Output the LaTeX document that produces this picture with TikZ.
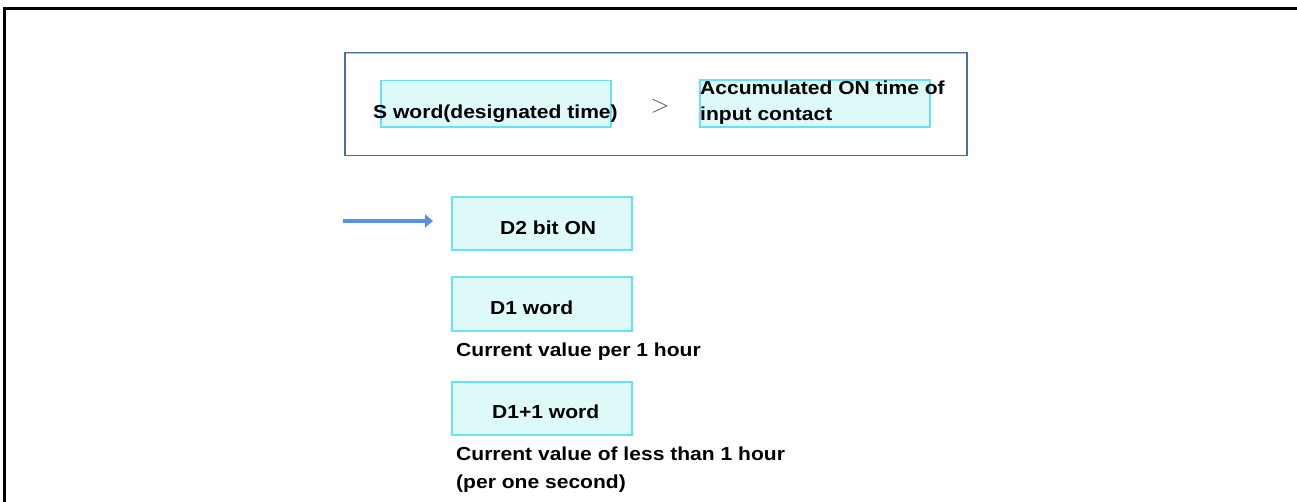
\documentclass[tikz,border=0pt]{standalone}
\usepackage{fontspec}
\setmainfont{Liberation Sans}[FakeStretch=1.12]
\usetikzlibrary{arrows.meta}
\definecolor{boxfill}{HTML}{DEFAF8}
\definecolor{boxline}{HTML}{66E2F0}
\definecolor{outerline}{HTML}{4A6FA5}
\definecolor{outerlight}{HTML}{A9C1E0}
\definecolor{arrowblue}{HTML}{5A8EF0}
\begin{document}
\begin{tikzpicture}[x=1pt,y=-1pt,
  cbox/.style={draw=boxline,fill=boxfill,line width=1.5pt,anchor=north west,inner sep=0pt,outer sep=0pt},
  lbl/.style={anchor=base west,inner sep=0pt,font=\bfseries\fontsize{18.8}{26}\selectfont},
  frameline/.style={line width=3.8pt,black}]
\useasboundingbox (0,0) rectangle (1297,502);
% outer frame
\coordinate (fTL) at (3,8.5);
\coordinate (fTR) at (1297,8.5);
\coordinate (fBL) at (4.5,502);
\draw[frameline] (fTL) -- (fTR);
\draw[line width=3.2pt] (4.5,7) -- (fBL);
% top group box
\node[draw=outerline,line width=1.5pt,anchor=north west,inner sep=0pt,minimum width=622pt,minimum height=103pt] (outer) at (344,52) {};
\draw[outerlight,line width=1pt] ([shift={(1.5,2)}]outer.north west) -- ([shift={(-1.5,2)}]outer.north east);
\node[cbox,minimum width=230pt,minimum height=46.5pt] (sbox) at (381,80.7) {};
\node[cbox,minimum width=230pt,minimum height=47pt] (abox) at (700,80) {};
\node[lbl] (stext) at (373,118.5) {S word(designated time)};
\node[anchor=center,inner sep=0pt,text=black!65,font=\fontsize{26}{28}\selectfont] (gt) at (660,106) {$>$};
\node[lbl] (atext1) at (700,95) {Accumulated ON time of};
\node[lbl] (atext2) at (700,121) {input contact};
% arrow
\coordinate (arrS) at (343,221);
\coordinate (arrE) at (433,221);
\draw[arrowblue,line width=4.2pt,-{Triangle[length=8pt,width=13pt]}] (arrS) -- (arrE);
% D boxes
\node[cbox,minimum width=180pt,minimum height=53pt] (d2) at (452,197) {};
\node[lbl] (d2t) at (500,235) {D2 bit ON};
\node[cbox,minimum width=180pt,minimum height=54pt] (d1) at (452,277) {};
\node[lbl] (d1t) at (490,315) {D1 word};
\node[lbl] (d1c) at (456,356) {Current value per 1 hour};
\node[cbox,minimum width=180pt,minimum height=53pt] (d11) at (452,382) {};
\node[lbl] (d11t) at (492,418) {D1+1 word};
\node[lbl] (d11c1) at (456,460) {Current value of less than 1 hour};
\node[lbl] (d11c2) at (456,488) {(per one second)};
\end{tikzpicture}
\end{document}
